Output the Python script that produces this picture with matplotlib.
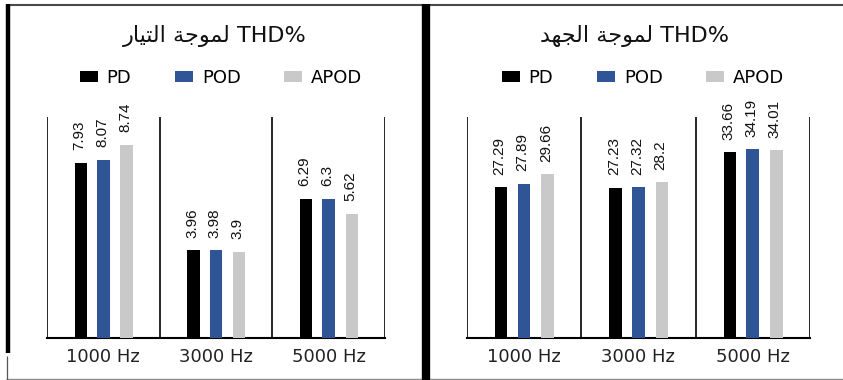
import matplotlib
matplotlib.use("Agg")
import matplotlib.pyplot as plt
from matplotlib.lines import Line2D
from matplotlib.patches import Patch
import numpy as np

# ---- data -------------------------------------------------------------
categories = ["1000 Hz", "3000 Hz", "5000 Hz"]
series_names = ["PD", "POD", "APOD"]
series_colors = ["#000000", "#2F5597", "#C9C9C9"]

current_pd = [7.93, 3.96, 6.29]
current_pod = [8.07, 3.98, 6.3]
current_apod = [8.74, 3.9, 5.62]

voltage_pd = [27.29, 27.23, 33.66]
voltage_pod = [27.89, 27.32, 34.19]
voltage_apod = [29.66, 28.2, 34.01]


# matplotlib does not shape Arabic, so the words are written with their
# contextual presentation forms, in visual (left-to-right) order.
def visual(*codepoints):
    return "".join(chr(c) for c in codepoints)

# لموجة -> ل(init) م(med) و(fin) ج(init) ة(fin), reversed
word_mawja = visual(0xFE94, 0xFE9F, 0xFEEE, 0xFEE4, 0xFEDF)
# التيار -> ا ل(init) ت(med) ي(med) ا(fin) ر, reversed
word_tayyar = visual(0xFEAD, 0xFE8E, 0xFEF4, 0xFE98, 0xFEDF, 0xFE8D)
# الجهد -> ا ل(init) ج(med) ه(med) د(fin), reversed
word_jahd = visual(0xFEAA, 0xFEEC, 0xFEA0, 0xFEDF, 0xFE8D)

title_current = word_tayyar + " " + word_mawja + " THD%"
title_voltage = word_jahd + " " + word_mawja + " THD%"

# ---- figure -----------------------------------------------------------
plt.rcParams["font.family"] = ["DejaVu Sans"]
fig = plt.figure(figsize=(8.43, 3.80), dpi=100)
fig.patch.set_facecolor("white")

label_font = ["Liberation Sans Narrow", "Liberation Sans", "DejaVu Sans"]


def draw_panel(rect, series, ymax, title, title_x, legend_x):
    ax = fig.add_axes(rect)
    x = np.arange(len(categories))
    offsets = [-0.2, 0.0, 0.205]
    width = 0.11
    for vals, name, col, off in zip(series, series_names, series_colors, offsets):
        bars = ax.bar(x + off, vals, width=width, color=col, label=name, zorder=3)
        for rect_, v in zip(bars, vals):
            ax.annotate(f"{v:g}",
                        xy=(rect_.get_x() + rect_.get_width() / 2, v),
                        xytext=(-1, 9), textcoords="offset points",
                        rotation=90, ha="center", va="bottom",
                        fontsize=11, family=label_font, color="#111111",
                        annotation_clip=False)
    ax.set_xlim(-0.5, len(categories) - 0.5)
    ax.set_ylim(0, ymax)
    for b in np.arange(len(categories) + 1) - 0.5:
        ax.axvline(b, color="#000000", lw=1.2, zorder=2)
    for s in ["left", "right", "top"]:
        ax.spines[s].set_visible(False)
    ax.spines["bottom"].set_linewidth(1.5)
    ax.spines["bottom"].set_color("#000000")
    ax.set_yticks([])
    ax.set_xticks(x)
    ax.set_xticklabels(categories, fontsize=13, color="#222222")
    ax.tick_params(axis="x", length=0, pad=7)
    ax.set_facecolor("white")

    fig.text(title_x, 1 - 36 / 380, title, ha="center", va="center",
             fontsize=16, color="#111111")

    handles = [Patch(facecolor=c, edgecolor="none") for c in series_colors]
    fig.legend(handles, series_names, loc="center",
               bbox_to_anchor=(legend_x, 1 - 78 / 380), ncol=3, frameon=False,
               fontsize=13, handlelength=1.0, handleheight=0.55,
               handletextpad=0.5, columnspacing=2.4, borderpad=0)
    return ax


W, H = 843.0, 380.0
ax_bottom = (H - 338) / H
ax_height = 221 / H

draw_panel([47 / W, ax_bottom, 338 / W, ax_height],
           [current_pd, current_pod, current_apod], 10.0,
           title_current, 215 / W, 221 / W)
draw_panel([466.7 / W, ax_bottom, 343.3 / W, ax_height],
           [voltage_pd, voltage_pod, voltage_apod], 40.0,
           title_voltage, 635 / W, 643 / W)

# ---- panel frame lines ------------------------------------------------
def fig_line(xs, ys, lw, color):
    fig.add_artist(Line2D([x / W for x in xs], [1 - y / H for y in ys],
                          lw=lw, color=color, solid_capstyle="butt"))

fig_line([6, 843], [4.5, 4.5], 1.5, "#4a4a4a")
fig_line([6, 843], [378.5, 378.5], 1.0, "#8a8a8a")
fig_line([7.5, 7.5], [4, 353], 3.2, "#000000")
fig_line([6.5, 6.5], [356, 380], 0.9, "#555555")
fig_line([425.5, 425.5], [4, 380], 6.0, "#000000")

fig.savefig("out.png", dpi=100, facecolor="white")
